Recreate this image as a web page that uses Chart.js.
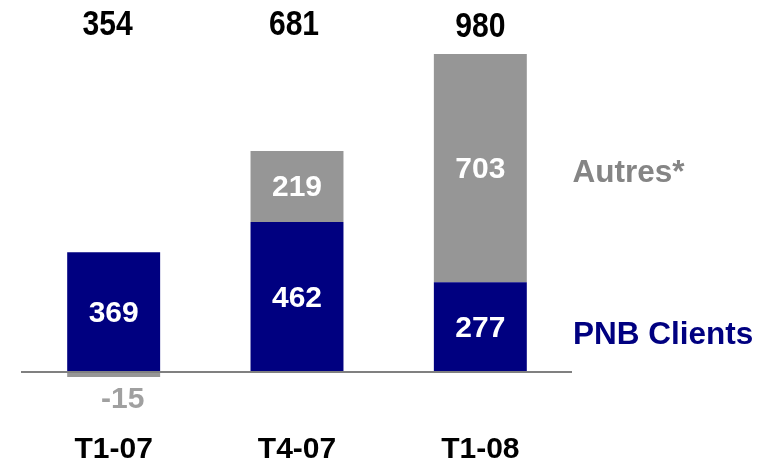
<!DOCTYPE html>
<html>
<head>
<meta charset="utf-8">
<script src="https://cdn.jsdelivr.net/npm/chart.js@4"></script>
<style>
html,body{margin:0;padding:0;background:#fff;}
#wrap{width:774px;height:464px;position:relative;}
</style>
</head>
<body>
<div id="wrap"><canvas id="c"></canvas></div>
<script>
const categories = ["T1-07", "T4-07", "T1-08"];
const pnbClients = [369, 462, 277];
const autres = [-15, 219, 703];
const seriesNames = ["PNB Clients", "Autres*"];

const NAVY = "#000080";
const GREY = "#969696";
const FONT = "'Liberation Sans', Arial, sans-serif";

const labelsPlugin = {
  id: "labelsPlugin",
  afterDatasetsDraw(chart) {
    const ctx = chart.ctx;
    const area = chart.chartArea;
    const yScale = chart.scales.y;
    const xScale = chart.scales.x;
    ctx.save();
    // zero line
    const y0 = yScale.getPixelForValue(0);
    ctx.strokeStyle = "#808080";
    ctx.lineWidth = 2;
    ctx.beginPath();
    ctx.moveTo(21, y0);
    ctx.lineTo(area.right, y0);
    ctx.stroke();

    ctx.textAlign = "center";
    ctx.textBaseline = "middle";
    ctx.font = "bold 30px " + FONT;
    chart.data.datasets.forEach((ds, di) => {
      const meta = chart.getDatasetMeta(di);
      meta.data.forEach((bar, i) => {
        const v = ds.data[i];
        if (v < 0) {
          ctx.fillStyle = "#a0a0a0";
          ctx.fillText(String(v), bar.x + 9, bar.y + 23);
        } else {
          ctx.fillStyle = "#ffffff";
          ctx.fillText(String(v), bar.x, (bar.y + bar.base) / 2 + 1.5);
        }
      });
    });

    // totals
    categories.forEach((c, i) => {
      const total = pnbClients[i] + autres[i];
      const x = xScale.getPixelForValue(i);
      ctx.save();
      ctx.translate(x - (i === 0 ? 6 : i === 1 ? 3 : 0), area.top - 22 + (i === 2 ? 2 : 0));
      ctx.scale(0.86, 1);
      ctx.font = "bold 35px " + FONT;
      ctx.fillStyle = "#000000";
      ctx.fillText(String(total), 0, 0);
      ctx.restore();
      // category labels
      ctx.font = "bold 30px " + FONT;
      ctx.fillStyle = "#000000";
      ctx.fillText(c, x, area.bottom + 45);
    });

    // series labels beside the last bar
    const last = categories.length - 1;
    const m0 = chart.getDatasetMeta(0).data[last];
    const m1 = chart.getDatasetMeta(1).data[last];
    ctx.textAlign = "left";
    ctx.font = "bold 31.5px " + FONT;
    ctx.fillStyle = NAVY;
    ctx.fillText(seriesNames[0], area.right + 1, (m0.y + m0.base) / 2 + 8);
    ctx.fillStyle = "#858585";
    ctx.fillText(seriesNames[1], area.right + 0.5, (m1.y + m1.base) / 2 + 5);
    ctx.restore();
  }
};

new Chart(document.getElementById("c"), {
  type: "bar",
  data: {
    labels: categories,
    datasets: [
      { label: seriesNames[0], data: pnbClients, backgroundColor: NAVY, borderWidth: 0 },
      { label: seriesNames[1], data: autres, backgroundColor: GREY, borderWidth: 0 }
    ]
  },
  options: {
    responsive: true,
    maintainAspectRatio: false,
    animation: false,
    events: [],
    layout: { padding: { left: 22, right: 202, top: 47.5, bottom: 59.5 } },
    datasets: { bar: { barPercentage: 0.507, categoryPercentage: 1.0 } },
    plugins: { legend: { display: false }, tooltip: { enabled: false }, title: { display: false } },
    scales: {
      x: { stacked: true, display: false },
      y: { stacked: true, display: false, min: -100, max: 1000 }
    }
  },
  plugins: [labelsPlugin]
});
</script>
</body>
</html>
